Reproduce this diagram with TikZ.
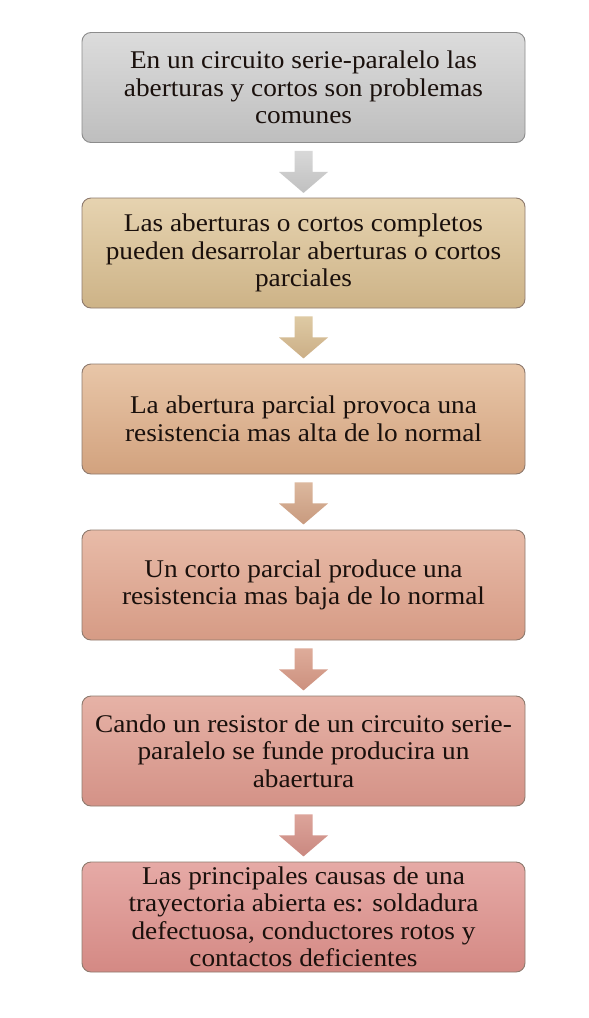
\documentclass[tikz,border=0pt]{standalone}
\usepackage{fontspec}
\setmainfont{Liberation Serif}[FakeStretch=1.07]
\usetikzlibrary{calc}
\definecolor{txt}{HTML}{1A100C}
\definecolor{brbord}{HTML}{8E7A6E}
\definecolor{grbord}{HTML}{8C8C8C}
\tikzset{
  box/.style={rectangle, rounded corners=9pt, draw=#1, line width=0.9pt,
    minimum width=443pt, minimum height=110pt, inner sep=2pt, align=center,
    text=txt, font=\fontsize{25.5}{27.5}\selectfont},
  box/.default={brbord},
}
\newcommand{\blockarrow}[3]{%
  \shade[top color=#2, bottom color=#3]
    ($(#1.south)+(-9pt,-8pt)$) -- ($(#1.south)+(9pt,-8pt)$) --
    ($(#1.south)+(9pt,-29pt)$) -- ($(#1.south)+(24.5pt,-29pt)$) --
    ($(#1.south)+(0pt,-50pt)$) -- ($(#1.south)+(-24.5pt,-29pt)$) --
    ($(#1.south)+(-9pt,-29pt)$) -- cycle;}
\begin{document}
\begin{tikzpicture}[x=1pt,y=-1pt]
\useasboundingbox (0,0) rectangle (589,1018);
\fill[white] (0,0) rectangle (589,1018);
\node[box=grbord, top color={rgb,255:red,220;green,220;blue,220}, bottom color={rgb,255:red,190;green,190;blue,190}] (b1) at (303.5,87.5)
  {En un circuito serie-paralelo las\\aberturas y cortos son problemas\\comunes};
\node[box, top color={rgb,255:red,230;green,211;blue,176}, bottom color={rgb,255:red,205;green,179;blue,135}] (b2) at (303.5,253)
  {Las aberturas o cortos completos\\pueden desarrolar aberturas o cortos\\parciales};
\node[box, top color={rgb,255:red,232;green,198;blue,168}, bottom color={rgb,255:red,210;green,162;blue,126}] (b3) at (303.5,419)
  {La abertura parcial provoca una\\resistencia mas alta de lo normal};
\node[box, top color={rgb,255:red,232;green,187;blue,168}, bottom color={rgb,255:red,214;green,155;blue,133}] (b4) at (303.5,585)
  {Un corto parcial produce una\\resistencia mas baja de lo normal};
\node[box, top color={rgb,255:red,230;green,178;blue,166}, bottom color={rgb,255:red,212;green,146;blue,135}] (b5) at (303.5,751)
  {Cando un resistor de un circuito serie-\\paralelo se funde producira un\\abaertura};
\node[box, top color={rgb,255:red,230;green,170;blue,166}, bottom color={rgb,255:red,212;green,137;blue,132}] (b6) at (303.5,917)
  {Las principales causas de una\\trayectoria abierta es: soldadura\\defectuosa, conductores rotos y\\contactos deficientes};
\blockarrow{b1}{{rgb,255:red,216;green,216;blue,216}}{{rgb,255:red,192;green,192;blue,192}}
\blockarrow{b2}{{rgb,255:red,222;green,202;blue,164}}{{rgb,255:red,203;green,174;blue,134}}
\blockarrow{b3}{{rgb,255:red,220;green,184;blue,158}}{{rgb,255:red,200;green,154;blue,126}}
\blockarrow{b4}{{rgb,255:red,222;green,172;blue,154}}{{rgb,255:red,204;green,144;blue,126}}
\blockarrow{b5}{{rgb,255:red,220;green,164;blue,154}}{{rgb,255:red,202;green,136;blue,128}}
\end{tikzpicture}
\end{document}
